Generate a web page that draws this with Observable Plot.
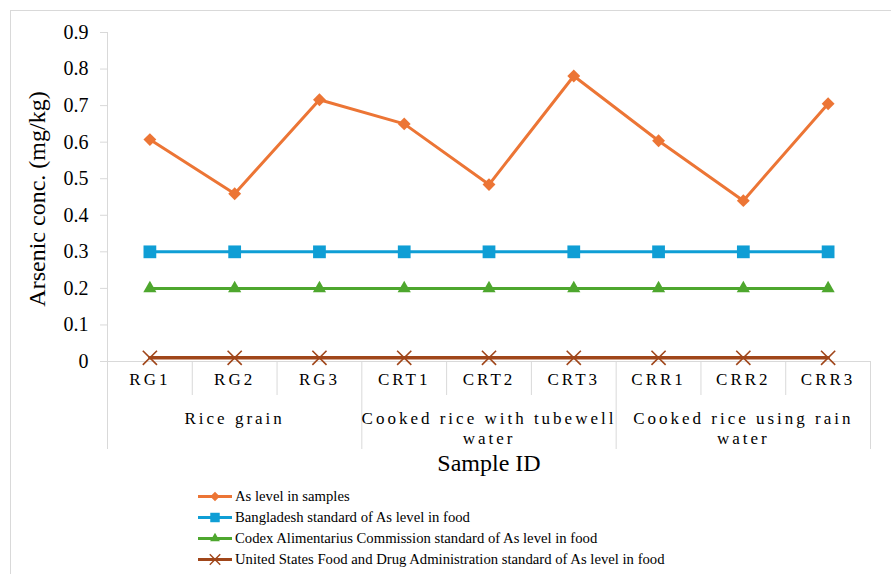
<!DOCTYPE html>
<html><head><meta charset="utf-8">
<script src="https://cdn.jsdelivr.net/npm/d3@7"></script>
<script src="https://cdn.jsdelivr.net/npm/@observablehq/plot@0.6"></script>
<style>
body{margin:0;background:#fff;font-family:'Liberation Serif','DejaVu Serif',serif}
#wrap{position:relative;width:891px;height:574px;overflow:hidden;background:#fff}
#frame{position:absolute;left:10px;top:10px;width:900px;height:600px;border-left:1px solid #d9d9d9;border-top:1px solid #d9d9d9;pointer-events:none}
#chart{position:absolute;left:0;top:0}
#chart svg, #chart svg text{font-family:'Liberation Serif','DejaVu Serif',serif}
#legend{position:absolute;left:198px;top:486px;font-size:14.7px;color:#000;font-family:'Liberation Serif','DejaVu Serif',serif}
.row{display:flex;align-items:center;height:21px;white-space:nowrap}
.row svg{flex:none;margin-right:3px}
g[font-size="17"] text{letter-spacing:3px}
</style>
</head><body>
<div id="wrap"><div id="chart"></div><div id="frame"></div><div id="legend"></div></div>
<script>
// ---- data ----
const samples = ["RG1","RG2","RG3","CRT1","CRT2","CRT3","CRR1","CRR2","CRR3"];
const groupLabels = ["Rice grain","Cooked rice with tubewell\nwater","Cooked rice using rain\nwater"];
const asLevel       = [0.607,0.459,0.716,0.650,0.484,0.781,0.604,0.440,0.705];
const bdStandard    = [0.3,0.3,0.3,0.3,0.3,0.3,0.3,0.3,0.3];
const codexStandard = [0.2,0.2,0.2,0.2,0.2,0.2,0.2,0.2,0.2];
const fdaStandard   = [0.01,0.01,0.01,0.01,0.01,0.01,0.01,0.01,0.01];
const seriesNames = [
  "As level in samples",
  "Bangladesh standard of As level in food",
  "Codex Alimentarius Commission standard of As level in food",
  "United States Food and Drug Administration standard of As level in food"
];
const yTicks = [0,0.1,0.2,0.3,0.4,0.5,0.6,0.7,0.8,0.9];
const yLabel = "Arsenic conc. (mg/kg)";
const xLabel = "Sample ID";

// ---- styles ----
const colors  = ["#ec7535","#0f9ed5","#4ea72e","#a0461a"];
const symbols = ["diamond2","square","triangle","times"];
const radii   = [5.8,7.2,4.9,6.5];
const grid = "#d9d9d9";
const font = "'Liberation Serif','DejaVu Serif',serif";

const seriesValues = [asLevel, bdStandard, codexStandard, fdaStandard];
const rows = seriesValues.flatMap((vals,k)=>vals.map((v,i)=>({i, sample:samples[i], v, k, series:seriesNames[k]})));
const xc = d => d.i + 0.5;
const groupSize = 3;
const groups = groupLabels.map((g,j)=>({label:g, c:j*groupSize + groupSize/2}));
const innerSeps = [], outerSeps = [];
for (let b = 1; b < samples.length; b++) (b % groupSize === 0 ? outerSeps : innerSeps).push(b);

const H = 480, mT = 32, mB = 119;
const plotH = H - mT - mB;

const marks = [
  Plot.ruleY([0], {stroke: grid}),
  Plot.ruleX([0], {stroke: grid, insetBottom: -88}),
  Plot.ruleX(innerSeps, {stroke: grid, insetTop: plotH, insetBottom: -34}),
  Plot.ruleX([...outerSeps, samples.length], {stroke: grid, insetTop: plotH, insetBottom: -88}),
  Plot.axisY({ticks: yTicks, tickSize: 7, tickPadding: 12, stroke: grid, fill: "#000", fontSize: 20,
    tickFormat: d => d === 0 ? "0" : d.toFixed(1), label: null}),
  Plot.text(samples, {x: (d,i)=>i+0.5, text: d=>d, frameAnchor: "bottom", dy: 23, fontSize: 17, fill: "#000"}),
  Plot.text(groups, {x: "c", text: "label", frameAnchor: "bottom", lineAnchor: "top", dy: 48, lineHeight: 1.2, fontSize: 17, fill: "#000"}),
  Plot.text([xLabel], {x: samples.length/2, frameAnchor: "bottom", dy: 109, fontSize: 24, fill: "#000"}),
  Plot.text([yLabel], {frameAnchor: "left", textAnchor: "middle", rotate: -90, dx: -70, dy: 2, fontSize: 24, fill: "#000"})
];
seriesNames.forEach((name,k)=>{
  const data = rows.filter(d=>d.k===k);
  marks.push(Plot.line(data, {x: xc, y: "v", stroke: colors[k], strokeWidth: k===3 ? 3.5 : 3}));
  if (symbols[k] === "times")
    marks.push(Plot.dot(data, {x: xc, y: "v", symbol: symbols[k], r: radii[k], stroke: colors[k], strokeWidth: 1.6}));
  else
    marks.push(Plot.dot(data, {x: xc, y: "v", symbol: symbols[k], r: radii[k], fill: colors[k], stroke: "none"}));
});

const chart = Plot.plot({
  width: 891, height: H,
  marginLeft: 107, marginRight: 21, marginTop: mT, marginBottom: mB,
  style: {fontFamily: font, background: "transparent", overflow: "visible"},
  x: {domain: [0, samples.length], axis: null},
  y: {domain: [0, 0.9], axis: null},
  marks
});
document.getElementById("chart").appendChild(chart);

// ---- legend ----
const legend = d3.select("#legend");
seriesNames.forEach((name,k)=>{
  const row = legend.append("div").attr("class","row");
  const svg = row.append("svg").attr("width",34).attr("height",21);
  svg.append("line").attr("x1",0).attr("x2",34).attr("y1",10.5).attr("y2",10.5)
    .attr("stroke",colors[k]).attr("stroke-width",3);
  const symMap = {diamond2: d3.symbolDiamond2, square: d3.symbolSquare, triangle: d3.symbolTriangle, times: d3.symbolTimes};
  const sz = Math.PI * radii[k] * radii[k] * 0.55;
  const p = svg.append("path").attr("transform","translate(17,10.5)")
    .attr("d", d3.symbol(symMap[symbols[k]], sz)());
  if (symbols[k] === "times") p.attr("fill","none").attr("stroke",colors[k]).attr("stroke-width",1.4);
  else p.attr("fill",colors[k]);
  row.append("span").text(name);
});
</script>
</body></html>
